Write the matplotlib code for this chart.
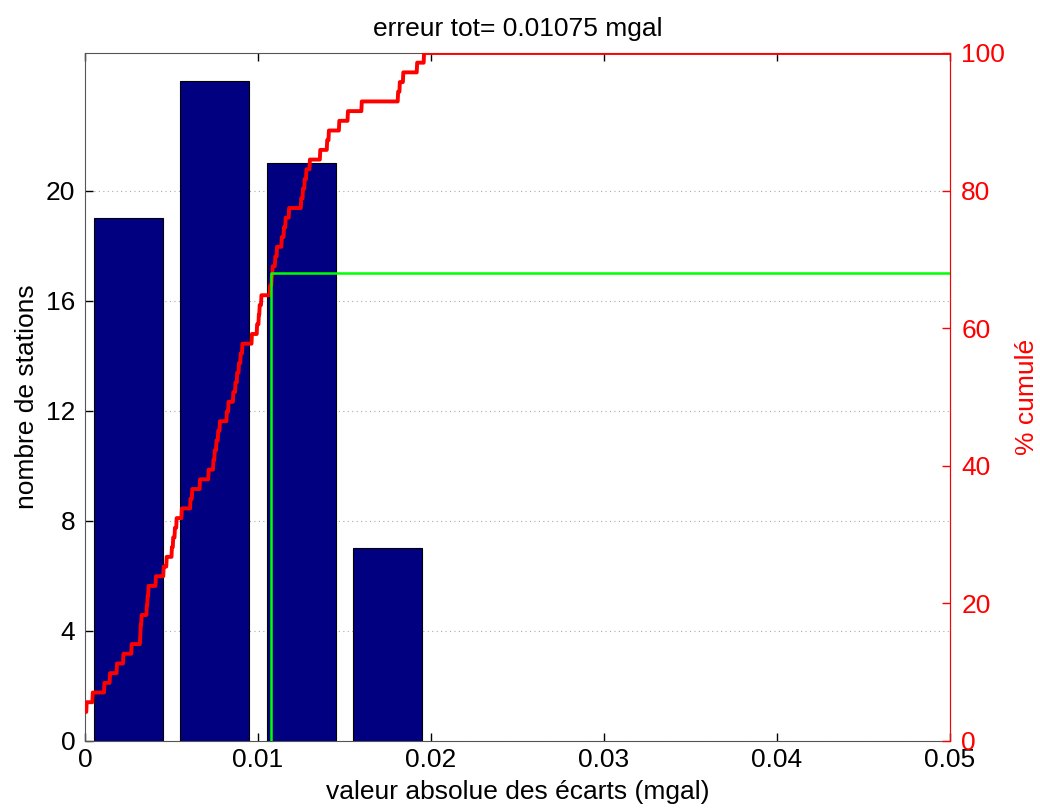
import numpy as np
import matplotlib
matplotlib.use('Agg')
import matplotlib.pyplot as plt

plt.rcParams['font.family'] = ['Liberation Sans', 'DejaVu Sans']

ecarts = [0.0, 0.0, 0.0, 0.0001, 0.00044, 0.00112, 0.00145, 0.00183, 0.00222, 0.0027,
          0.00318, 0.00321, 0.00327, 0.00357, 0.00361, 0.00366, 0.0041, 0.00453, 0.00472,
          0.00501, 0.0051, 0.0052, 0.0053, 0.0056, 0.0061, 0.0062, 0.00665, 0.00713, 0.00742,
          0.0075, 0.0076, 0.0077, 0.0078, 0.0082, 0.0083, 0.00857, 0.0087, 0.0088, 0.0089,
          0.009, 0.0091, 0.00964, 0.00994,
          0.01005, 0.0101, 0.0102, 0.0107, 0.0108, 0.01085, 0.011, 0.0111, 0.01137, 0.0115,
          0.0116, 0.0118, 0.0125, 0.0126, 0.0127, 0.0128, 0.013, 0.0136, 0.014, 0.0141, 0.0147,
          0.0152, 0.016, 0.0181, 0.0182, 0.0184, 0.0192, 0.0196]

centres = [0.0025, 0.0075, 0.0125, 0.0175]
nb_stations = [19, 24, 21, 7]
erreur_tot = 0.01075
pct_erreur = 68

ecarts = np.array(ecarts)
xg = np.linspace(0, 0.05, 2001)
cumul = np.array([(ecarts <= v).sum() for v in xg]) / len(ecarts) * 100

fs = 19
fig = plt.figure(figsize=(10.4, 8.09), dpi=100)
ax1 = fig.add_axes([0.0817, 0.0841, 0.8318, 0.8504])
ax1.bar(centres, nb_stations, width=0.004, color='#000080', edgecolor='black', linewidth=0.8, zorder=2)
ax1.set_xlim(0, 0.05)
ax1.set_ylim(0, 25)
ax1.set_yticks([0, 4, 8, 12, 16, 20])
ax1.set_xticks([0, 0.01, 0.02, 0.03, 0.04, 0.05])
ax1.set_xticklabels(['0', '0.01', '0.02', '0.03', '0.04', '0.05'])
ax1.yaxis.grid(True, linestyle=(0, (1, 3)), color='#aaaaaa', linewidth=0.8)
ax1.set_axisbelow(True)
ax1.tick_params(direction='in', length=6, width=1, top=True, right=True, labelsize=fs)
ax1.tick_params(axis='x', pad=5)
ax1.tick_params(axis='y', pad=7)
for s in ax1.spines.values():
    s.set_color('#555555')
ax1.set_ylabel('nombre de stations', fontsize=fs, labelpad=5)
ax1.set_xlabel('valeur absolue des écarts (mgal)', fontsize=fs, labelpad=6)
ax1.set_title('erreur tot= ' + str(erreur_tot) + ' mgal', fontsize=fs, pad=12)

ax2 = ax1.twinx()
ax2.plot(xg, cumul, color='red', linewidth=2.8)
ax2.plot([erreur_tot, erreur_tot, 0.05], [0, pct_erreur, pct_erreur], color='#00ff00', linewidth=1.8)
ax2.set_ylim(0, 100)
ax2.set_yticks([0, 20, 40, 60, 80, 100])
ax2.tick_params(axis='y', direction='in', length=6, width=1, colors='red', labelsize=fs, pad=8)
ax2.spines['right'].set_color('red')
ax2.spines['left'].set_visible(False)
ax2.spines['top'].set_visible(False)
ax2.spines['bottom'].set_visible(False)
ax2.set_ylabel('% cumulé', color='red', fontsize=fs, labelpad=7)

fig.savefig('out.png', dpi=100)
